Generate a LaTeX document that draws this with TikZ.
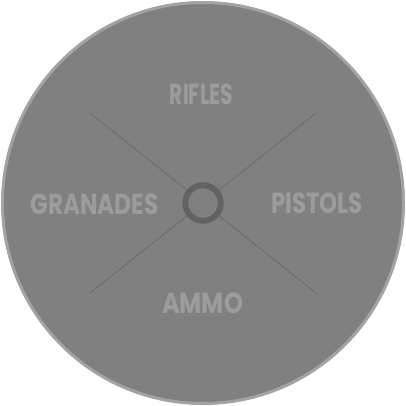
\documentclass[tikz,border=0pt]{standalone}
\usepackage{fontspec}
\setmainfont{Poppins}
\usepackage{tikz}

\definecolor{wheelfill}{HTML}{808080}
\definecolor{wheelrim}{HTML}{A3A3A3}
\definecolor{spokegray}{HTML}{6C6C6C}
\definecolor{hubgray}{HTML}{626262}
\definecolor{labelgray}{HTML}{9C9C9C}

\tikzset{
    slotlabel/.style={text=labelgray, font=\fontsize{29}{29}\selectfont\bfseries, inner sep=0pt, transform shape},
    spoke/.style={draw=spokegray, line width=0.9pt}
}

\begin{document}
\begin{tikzpicture}[x=1pt, y=-1pt]

    \useasboundingbox (0,0) rectangle (406,406);

    % Outer wheel
    \fill[wheelfill] (203,203) circle (201.5);
    \draw[wheelrim, line width=3pt] (203,203) circle (200.5);

    % Spoke end points
    \coordinate (ul) at (90,113);
    \coordinate (ur) at (316,113);
    \coordinate (ll) at (90,293);
    \coordinate (lr) at (316,293);

    % Diagonal spokes
    \draw[spoke] (ul) -- (lr);
    \draw[spoke] (ur) -- (ll);

    % Centre ring
    \node[circle, draw=hubgray, line width=6pt, fill=wheelfill, minimum size=35.5pt, inner sep=0pt] (hub) at (203,203) {};

    % Labels
    \node[slotlabel, xscale=0.70] (rifles) at (201.5,94) {RIFLES};
    \node[slotlabel, xscale=0.80] (granades) at (94.5,204) {GRANADES};
    \node[slotlabel, xscale=0.79] (pistols) at (317,203.5) {PISTOLS};
    \node[slotlabel, xscale=0.83] (ammo) at (202.5,303.5) {AMMO};
\end{tikzpicture}
\end{document}
